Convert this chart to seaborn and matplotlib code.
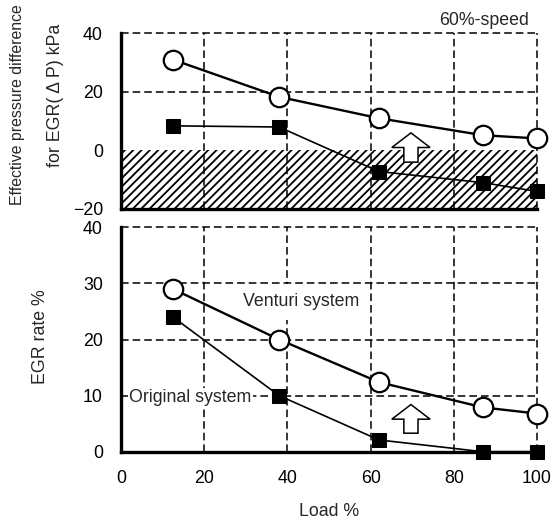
import numpy as np
import pandas as pd
import matplotlib
matplotlib.use("Agg")
import matplotlib.pyplot as plt
import seaborn as sns

# ------------------------------------------------------------
# Dados (60%-speed)
# ------------------------------------------------------------
load = [12.5, 38, 62, 87, 100]

dp_venturi = [31, 18.3, 11, 5.2, 4.1]
dp_original = [8.4, 8.0, -7.2, -11, -14]

egr_venturi = [29, 20, 12.4, 7.9, 6.8]
egr_original = [24, 10, 2.1, 0, 0]

x_ticks = [0, 20, 40, 60, 80, 100]
dp_ticks = [-20, 0, 20, 40]
egr_ticks = [0, 10, 20, 30, 40]

sns.set_theme(style="white")
plt.rcParams["font.family"] = ["Liberation Sans", "DejaVu Sans"]
plt.rcParams["hatch.linewidth"] = 1.3

FS = 12.8
grid_kw = dict(color="black", linewidth=1.1, linestyle=(0, (5, 2.6)), zorder=1, clip_on=False)

fig = plt.figure(figsize=(5.59, 5.23), dpi=100)
ax1 = fig.add_axes([0.2165, 0.6004, 0.7441, 0.3359])
ax2 = fig.add_axes([0.2165, 0.1363, 0.7441, 0.4291])


def estilo(ax, yticks, show_xlabels):
    ax.set_xlim(0, 100)
    ax.set_ylim(yticks[0], yticks[-1])
    ax.set_xticks(x_ticks)
    ax.set_yticks(yticks)
    ax.tick_params(length=0, labelsize=FS, pad=13, colors="black")
    if not show_xlabels:
        ax.set_xticklabels([])
    for s in ["top", "right"]:
        ax.spines[s].set_visible(False)
    for s in ["left", "bottom"]:
        ax.spines[s].set_color("black")
        ax.spines[s].set_linewidth(2.4)
        ax.spines[s].set_zorder(4)
    for xv in x_ticks[1:]:
        ax.axvline(xv, **grid_kw)
    for yv in yticks[1:]:
        if yv == 0:
            continue
        ax.axhline(yv, **grid_kw)
    ax.set_xlabel("")
    ax.set_ylabel("")


def series(ax, y, kind):
    if kind == "venturi":
        sns.lineplot(x=load, y=y, ax=ax, color="black", linewidth=1.7,
                     marker="o", markersize=14, markerfacecolor="white",
                     markeredgecolor="black", markeredgewidth=1.6,
                     zorder=5, clip_on=False)
    else:
        sns.lineplot(x=load, y=y, ax=ax, color="black", linewidth=1.2,
                     marker="s", markersize=9.5, markerfacecolor="black",
                     markeredgecolor="black", zorder=5, clip_on=False)


# ------------------------------------------------------------
# Painel superior: diferença de pressão
# ------------------------------------------------------------
ax1.axhspan(-20, 0, facecolor="none", edgecolor="black", hatch="////",
            linewidth=0, zorder=0.5)
estilo(ax1, dp_ticks, show_xlabels=False)
series(ax1, dp_venturi, "venturi")
series(ax1, dp_original, "original")
ax1.arrow(69.7, -4, 0, 5, width=3.4, head_width=9.2, head_length=5,
          length_includes_head=False, facecolor="white", edgecolor="black",
          linewidth=1.1, zorder=3)
ax1.text(98, 44.5, "60%-speed", ha="right", va="center", fontsize=FS)

# ------------------------------------------------------------
# Painel inferior: taxa de EGR
# ------------------------------------------------------------
estilo(ax2, egr_ticks, show_xlabels=True)
series(ax2, egr_venturi, "venturi")
series(ax2, egr_original, "original")
ax2.arrow(69.7, 3.3, 0, 2.5, width=3.4, head_width=9.2, head_length=2.6,
          length_includes_head=False, facecolor="white", edgecolor="black",
          linewidth=1.1, zorder=3)
ax2.text(29.3, 26.7, "Venturi system", ha="left", va="center", fontsize=FS,
         zorder=2, bbox=dict(facecolor="white", edgecolor="none", pad=7))
ax2.text(1.9, 9.6, "Original system", ha="left", va="center", fontsize=FS,
         zorder=2, bbox=dict(facecolor="white", edgecolor="none", pad=1))
ax2.set_xlabel("Load %", fontsize=FS, labelpad=12)

# Rótulos dos eixos y
fig.text(0.032, 0.800, "Effective pressure difference", rotation=90,
         ha="center", va="center", fontsize=11.4)
fig.text(0.100, 0.818, "for EGR( \u0394 P) kPa", rotation=90,
         ha="center", va="center", fontsize=FS)
fig.text(0.072, 0.356, "EGR rate %", rotation=90, ha="center", va="center",
         fontsize=FS)

fig.savefig("out.png", dpi=100)
